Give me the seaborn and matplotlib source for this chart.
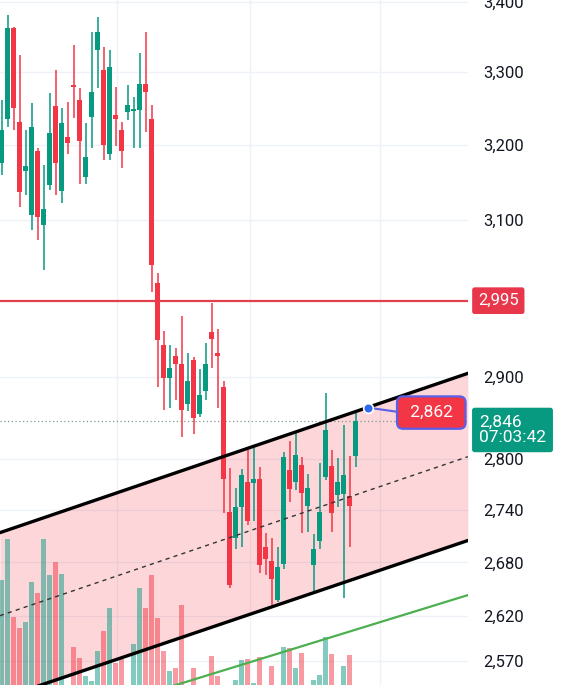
import matplotlib
matplotlib.use("Agg")
import matplotlib.pyplot as plt
import matplotlib.transforms as mtransforms
from matplotlib.ticker import FixedLocator, FuncFormatter, NullLocator
import numpy as np
import seaborn as sns

# OHLC candles (oldest -> newest)
opens = [3175, 3235, 3363, 3231, 3164, 3106, 3192, 3093, 3146, 3253,
         3138, 3210, 3282, 3262, 3157, 3238, 3331, 3303, 3188, 3241,
         3220, 3245, 3246, 3247, 3283, 3235, 3018, 2939, 2898, 2925,
         2915, 2867, 2921, 2854, 2882, 2956, 2929, 2887, 2738, 2708,
         2744, 2773, 2772, 2777, 2698, 2681, 2637, 2678, 2787, 2773,
         2793, 2745, 2677, 2704, 2779, 2792, 2758, 2759, 2757, 2804]
highs = [3261, 3381, 3364, 3324, 3220, 3257, 3196, 3172, 3271, 3303,
         3250, 3258, 3339, 3278, 3230, 3357, 3378, 3336, 3331, 3279,
         3231, 3282, 3265, 3327, 3357, 3254, 3030, 2957, 2939, 2936,
         2975, 2929, 2924, 2909, 2942, 2992, 2959, 2895, 2789, 2766,
         2788, 2811, 2815, 2791, 2714, 2708, 2698, 2808, 2822, 2831,
         2803, 2783, 2712, 2795, 2880, 2811, 2801, 2841, 2804, 2855]
lows = [3159, 3224, 3220, 3117, 3132, 3086, 3073, 3034, 3139, 3132,
        3122, 3188, 3237, 3147, 3147, 3195, 3278, 3179, 3179, 3199,
        3168, 3234, 3195, 3196, 3217, 3006, 2887, 2859, 2861, 2871,
        2827, 2858, 2830, 2851, 2871, 2910, 2861, 2737, 2651, 2695,
        2697, 2723, 2727, 2668, 2666, 2632, 2635, 2672, 2750, 2764,
        2714, 2715, 2646, 2695, 2775, 2715, 2744, 2640, 2697, 2791]
closes = [3220, 3363, 3250, 3136, 3171, 3224, 3103, 3114, 3216, 3175,
          3230, 3203, 3279, 3205, 3183, 3272, 3357, 3200, 3307, 3235,
          3191, 3255, 3249, 3283, 3272, 3041, 2946, 2898, 2911, 2916,
          2859, 2895, 2849, 2877, 2916, 2947, 2925, 2776, 2654, 2744,
          2781, 2727, 2776, 2677, 2684, 2661, 2675, 2803, 2765, 2805,
          2760, 2766, 2695, 2738, 2835, 2737, 2773, 2781, 2745, 2846]
volumes = [120, 161, 83, 72, 78, 118, 107, 161, 125, 138,
           126, 10, 53, 42, 24, 19, 49, 69, 92, 37,
           41, 10, 56, 112, 92, 125, 82, 49, 29, 32,
           95, 10, 32, 10, 10, 44, 24, 12, 12, 20,
           40, 41, 17, 43, 10, 34, 10, 53, 52, 32,
           47, 10, 20, 25, 63, 46, 10, 34, 45, 5]

price_ticks = [3400, 3300, 3200, 3100, 2900, 2800, 2740, 2680, 2620, 2570]

# drawings: parallel channel, support line, horizontal level
channel_x = [-0.3, 77.7]
channel_upper = [2714, 2904]
channel_mid = [2620, 2803]
channel_lower = [2529, 2705]
support_x = [20.0, 77.7]
support_y = [2526, 2643]
resistance = 2995
last_price = 2846
last_time = "07:03:42"
marker_x = 61.05
marker_price = 2862

GREEN = "#089981"
RED = "#f23645"

sns.set_style("white")
plt.rcParams["font.family"] = ["Roboto", "DejaVu Sans"]

fig = plt.figure(figsize=(5.66, 6.85), dpi=100)
ax = fig.add_axes([0, 0, 468 / 566, 1])
ax.set_yscale("log")

idx = np.arange(len(opens))
o = np.array(opens, dtype=float)
c = np.array(closes, dtype=float)
up = c >= o
colors = np.where(up, GREEN, RED)

# grid
ax.yaxis.set_major_locator(FixedLocator(price_ticks))
ax.yaxis.set_minor_locator(NullLocator())
ax.yaxis.set_major_formatter(FuncFormatter(lambda v, p: f"{v:,.0f}"))
ax.xaxis.set_major_locator(FixedLocator([19.2, 41.4, 63.0]))
ax.set_xticklabels([])
ax.grid(True, color="#eef1f6", lw=1)
ax.yaxis.tick_right()
ax.tick_params(axis="y", length=0, pad=11, labelsize=12, labelcolor="#131722")
ax.tick_params(axis="x", length=0)
for s in ax.spines.values():
    s.set_visible(False)

# channel fill
ax.fill_between(channel_x, channel_lower, channel_upper, color=RED, alpha=0.2, lw=0, zorder=1)

# volume bars on their own scale at the bottom
vol_trans = mtransforms.blended_transform_factory(
    ax.transData,
    mtransforms.Affine2D().scale(1, 1 / 685).translate(0, -15 / 685) + ax.transAxes)
ax.bar(idx, volumes, width=0.8, bottom=0, color=colors, alpha=0.5, lw=0,
       transform=vol_trans, zorder=2)

# levels
ax.axhline(resistance, color="#e2404c", lw=1.6, zorder=3)
ax.axhline(last_price, color="#7e9c97", lw=0.9, ls=(0, (1, 2)), zorder=3)

# candles
ax.vlines(idx, lows, highs, colors=colors, lw=1.1, zorder=4)
bottoms = np.minimum(o, c)
heights = np.maximum(np.abs(c - o), 2.0)
ax.bar(idx, heights, bottom=bottoms, width=0.8, color=colors, lw=0, zorder=5)

# trend lines
sns.lineplot(x=channel_x, y=channel_upper, ax=ax, color="black", lw=2.4, zorder=6)
sns.lineplot(x=channel_x, y=channel_lower, ax=ax, color="black", lw=2.4, zorder=6)
sns.lineplot(x=channel_x, y=channel_mid, ax=ax, color="#333333", lw=1.0,
             linestyle=(0, (3, 3)), zorder=6)
sns.lineplot(x=support_x, y=support_y, ax=ax, color="#4caf50", lw=1.6, zorder=6)
ax.set_xlim(-0.283, 77.72)
ax.set_ylim(2544.0, 3402.9)
ax.set_xlabel("")
ax.set_ylabel("")

# price marker on the channel
ax.plot([marker_x, 65.9], [marker_price, 2857], color="#5b5fe6", lw=1.5, zorder=7)
ax.plot(marker_x, marker_price, "o", ms=7, color="#2f6bf0", mec="white", mew=1.2, zorder=8)
ax.text(71.6, 2856, f" {marker_price:,} ", ha="center", va="center", fontsize=12.5,
        color="white", zorder=9, clip_on=False,
        bbox=dict(boxstyle="round,pad=0.5,rounding_size=0.35", fc=RED, ec="#5b5fe6", lw=1.6))

# axis price labels
lbl = mtransforms.blended_transform_factory(fig.transFigure, ax.transData)
fig.text(478 / 566, resistance, f"{resistance:,}", transform=lbl, ha="left", va="center",
         fontsize=12, color="white",
         bbox=dict(boxstyle="round,pad=0.35,rounding_size=0.15", fc="#e8364a", ec="none"))
fig.text(479 / 566, 2835, f"{last_price:,}\n{last_time}", transform=lbl, ha="left",
         va="center", fontsize=12.5, color="white", linespacing=1.05,
         bbox=dict(boxstyle="round,pad=0.4,rounding_size=0.15", fc=GREEN, ec="none"))

fig.savefig("out.png", dpi=100)
